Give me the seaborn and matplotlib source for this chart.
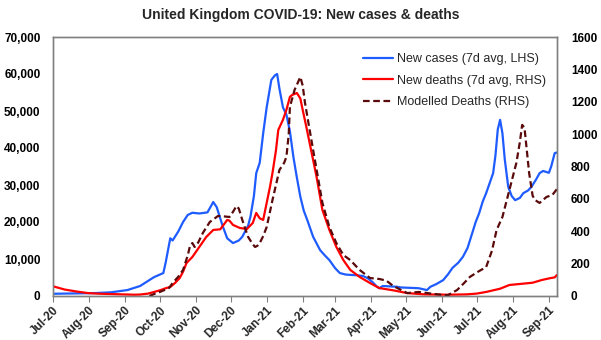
import pandas as pd
import numpy as np
import matplotlib
matplotlib.use("Agg")
import matplotlib.pyplot as plt
import matplotlib.dates as mdates
import seaborn as sns

START = "2020-07-01"

# New cases, 7d avg (LHS) - day offsets from START and values
case_days = [0, 20, 37, 50, 64, 75, 87, 95, 97, 100, 101, 103, 108, 112, 116, 120, 126, 133, 138, 141,
             146, 150, 155, 160, 163, 168, 170, 173, 175, 178, 181, 184, 188, 191, 193, 195, 198, 201,
             204, 207, 210, 213, 216, 219, 224, 230, 234, 238, 243, 247, 252, 256, 262, 267, 271, 275,
             279, 281, 284, 290, 296, 300, 308, 315, 322, 325, 330, 336, 340, 344, 349, 353, 357, 360,
             364, 367, 370, 373, 376, 379, 381, 383, 385, 387, 389, 392, 395, 398, 402, 405, 409, 412,
             416, 419, 422, 425, 427, 429, 432, 434]
case_vals = [600, 700, 800, 1000, 1600, 2700, 5100, 6200, 9000, 14000, 15600, 15000, 17500, 20000, 21900,
             22500, 22300, 22600, 25400, 24000, 19000, 15600, 14300, 15000, 16000, 19000, 21400, 27000,
             33200, 36000, 44000, 51000, 58400, 59600, 60000, 56000, 51000, 49000, 44500, 37600, 32000,
             26800, 23000, 20500, 16000, 12400, 11000, 9700, 7500, 6200, 5800, 5700, 5600, 5400, 4800,
             3800, 2500, 2100, 2700, 2600, 2500, 2300, 2200, 2100, 1600, 2500, 3200, 4300, 5800, 7600,
             9000, 10600, 13000, 16000, 20000, 22400, 25500, 27800, 30500, 33200, 38000, 45000, 47600,
             44000, 37000, 29500, 27000, 25900, 26500, 27800, 28500, 29500, 31500, 33200, 33800, 33500,
             33300, 35000, 38600, 38800]

# New deaths, 7d avg (RHS)
death_days = [0, 10, 20, 30, 40, 50, 60, 70, 75, 82, 87, 92, 97, 101, 105, 109, 112, 115, 120, 126, 132,
              138, 144, 148, 150, 152, 155, 161, 167, 172, 175, 178, 181, 184, 187, 189, 192, 194, 198,
              201, 204, 206, 210, 213, 215, 218, 221, 224, 227, 232, 235, 238, 244, 250, 256, 264, 273,
              281, 293, 305, 320, 340, 356, 365, 373, 385, 393, 403, 413, 421, 428, 432, 434]
death_vals = [60, 40, 28, 18, 14, 12, 10, 8, 9, 15, 25, 35, 48, 56, 80, 110, 150, 204, 241, 303, 365,
              408, 412, 450, 470, 465, 439, 420, 414, 451, 513, 480, 470, 575, 680, 760, 900, 1026, 1088,
              1150, 1230, 1242, 1254, 1220, 1150, 1050, 945, 840, 735, 531, 470, 408, 303, 222, 161, 118,
              80, 49, 35, 18, 10, 8, 10, 15, 25, 45, 68, 75, 82, 99, 110, 115, 130]

# Modelled deaths (RHS)
model_days = [83, 88, 92, 96, 100, 103, 108, 112, 116, 118, 120, 122, 125, 129, 135, 142, 147, 152, 155,
              158, 160, 163, 168, 172, 174, 176, 178, 181, 184, 189, 195, 199, 201, 203, 204, 208, 213,
              215, 217, 221, 227, 232, 238, 244, 250, 256, 264, 273, 281, 287, 293, 305, 315, 320, 336,
              340, 348, 354, 359, 366, 373, 378, 382, 387, 393, 399, 402, 404, 406, 410, 413, 415, 419,
              425, 430, 434]
model_vals = [0, 15, 25, 37, 50, 80, 120, 161, 250, 310, 327, 303, 330, 389, 457, 494, 492, 488, 520,
              556, 540, 470, 365, 320, 303, 310, 327, 370, 426, 593, 779, 822, 860, 1000, 1168, 1273,
              1353, 1300, 1193, 1026, 779, 575, 426, 327, 253, 222, 161, 111, 105, 95, 62, 18, 25, 20, 6,
              5, 37, 80, 118, 150, 179, 280, 408, 488, 655, 822, 950, 1057, 1040, 760, 620, 593, 575,
              612, 624, 661]

labels = ["New cases (7d avg, LHS)", "New deaths (7d avg, RHS)", "Modelled Deaths (RHS)"]
colors = ["#1F5CFF", "#FF0000", "#5A0A0A"]


def to_df(days, vals):
    return pd.DataFrame({"date": pd.Timestamp(START) + pd.to_timedelta(days, unit="D"), "value": vals})


sns.set_theme(style="white")
plt.rcParams["font.family"] = ["Liberation Sans", "DejaVu Sans"]

fig = plt.figure(figsize=(6.01, 3.40), dpi=100)
ax = fig.add_axes([53 / 601, 44 / 340, (557 - 53) / 601, (296 - 37) / 340])
ax2 = ax.twinx()

sns.lineplot(data=to_df(case_days, case_vals), x="date", y="value", ax=ax, color=colors[0], lw=1.6,
             label=labels[0], legend=False)
sns.lineplot(data=to_df(death_days, death_vals), x="date", y="value", ax=ax2, color=colors[1], lw=1.6,
             label=labels[1], legend=False)
sns.lineplot(data=to_df(model_days, model_vals), x="date", y="value", ax=ax2, color=colors[2], lw=1.6,
             label=labels[2], legend=False, linestyle=(0, (3, 1.6)))

ax.set_ylim(0, 70000)
ax2.set_ylim(0, 1600)
ax.set_xlim(pd.Timestamp(START), pd.Timestamp(START) + pd.Timedelta(days=434))
ax.set_yticks(np.arange(0, 70001, 10000))
ax2.set_yticks(np.arange(0, 1601, 200))
ax.yaxis.set_major_formatter(matplotlib.ticker.FuncFormatter(lambda v, p: f"{int(v):,}"))
ax.xaxis.set_major_locator(mdates.MonthLocator())
ax.xaxis.set_major_formatter(mdates.DateFormatter("%b-%y"))
ax.set_xlabel("")
ax.set_ylabel("")
ax2.set_ylabel("")

for a in (ax, ax2):
    for s in a.spines.values():
        s.set_color("#808080")
        s.set_linewidth(1.0)
ax.tick_params(axis="y", length=0, pad=9, labelsize=8.5, colors="black")
ax2.tick_params(axis="y", length=0, pad=10, labelsize=8.5, colors="black")
ax.tick_params(axis="x", bottom=True, length=4, width=0.8, color="#808080", labelsize=8.5, pad=2)
for lab in ax.get_xticklabels():
    lab.set_rotation(45)
    lab.set_ha("right")
    lab.set_rotation_mode("anchor")
    lab.set_fontweight("bold")
for lab in ax.get_yticklabels() + ax2.get_yticklabels():
    lab.set_fontweight("bold")

h1, l1 = ax.get_legend_handles_labels()
h2, l2 = ax2.get_legend_handles_labels()
ax2.legend(h1 + h2, l1 + l2, loc="upper right", bbox_to_anchor=(1.0, 0.98), frameon=False, fontsize=9,
           handlelength=2.4, handletextpad=0.3, labelspacing=0.75)

fig.text(0.5, 0.955, "United Kingdom COVID-19: New cases & deaths", ha="center", va="center",
         fontsize=10, fontweight="bold")

fig.savefig("out.png", dpi=100, facecolor="white")
